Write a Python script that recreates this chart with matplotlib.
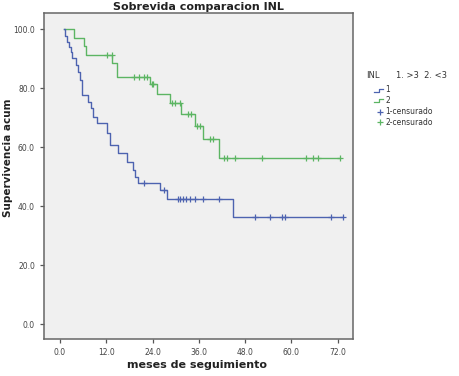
import numpy as np
import matplotlib
matplotlib.use("Agg")
import matplotlib.pyplot as plt
from matplotlib.lines import Line2D

# Kaplan-Meier data ----
g1_start = 1.0
g1_end = 73.3
g1_times = [1.2, 1.7, 2.3, 2.9, 3.2, 4.1, 4.6, 5.2, 5.6, 7.3, 8.0, 8.6, 9.5,
            12.1, 13.0, 15.1, 17.3, 19.0, 19.5, 20.3, 25.9, 27.7, 44.9]
g1_surv = [97.7, 95.8, 94.1, 92.4, 90.2, 87.9, 85.6, 82.8, 77.7, 75.5, 73.2, 70.4, 68.1,
           64.7, 60.8, 58.0, 55.1, 52.3, 50.0, 48.0, 45.5, 42.4, 36.5]
g1_cens = [21.7, 27.0, 30.7, 31.1, 32.0, 32.8, 33.7, 35.0, 37.2, 41.3,
           50.6, 54.4, 57.7, 58.3, 70.3, 73.3]

g2_start = 1.0
g2_end = 72.6
g2_times = [3.7, 6.3, 6.8, 13.6, 14.7, 23.3, 25.1, 28.5, 31.5, 35.0, 37.2, 41.3]
g2_surv = [97.1, 94.3, 91.4, 88.5, 83.7, 81.4, 78.0, 74.9, 71.2, 67.2, 62.7, 56.3]
g2_cens = [12.1, 13.4, 19.2, 20.6, 21.8, 22.6, 23.8, 24.2, 29.0, 29.8, 31.1, 33.3,
           33.9, 35.6, 36.3, 38.9, 39.7, 42.5, 43.4, 45.4, 52.3, 63.9, 65.5, 67.0, 72.6]

xticks = [0, 12, 24, 36, 48, 60, 72]
yticks = [0, 20, 40, 60, 80, 100]

blue = "#4d63b0"
green = "#5cb563"

W, H = 459, 376


def fx(x):
    return x / W


def fy(y):
    return 1 - y / H


def km_curve(ax, start, end, times, surv, cens, color):
    xs = [start] + times + [end]
    ys = [100] + surv + [surv[-1]]
    ax.step(xs, ys, where="post", color=color, lw=1.0)
    levels = np.array([100] + surv)
    idx = np.searchsorted(np.array(times), np.array(cens), side="right")
    ax.plot(cens, levels[idx], linestyle="none", marker="+", color=color,
            markersize=4.5, markeredgewidth=0.9)


fig = plt.figure(figsize=(W / 100, H / 100), dpi=100)
ax = fig.add_axes([fx(44), fy(339), fx(353) - fx(44), fy(12.7) - fy(339)])
ax.set_facecolor("#f0f0f0")

km_curve(ax, g2_start, g2_end, g2_times, g2_surv, g2_cens, green)
km_curve(ax, g1_start, g1_end, g1_times, g1_surv, g1_cens, blue)

ax.set_xlim(-4.15, 76.0)
ax.set_ylim(-5.0, 105.6)
ax.set_xticks(xticks)
ax.set_xticklabels(["%.1f" % v for v in xticks])
ax.set_yticks(yticks)
ax.set_yticklabels(["%.1f" % v for v in yticks])
ax.tick_params(direction="out", length=3, width=0.9, colors="#555555",
               labelsize=5.5, labelcolor="#444444")
for sp in ax.spines.values():
    sp.set_color("#666666")
    sp.set_linewidth(1.1)

ax.set_xlabel("meses de seguimiento", fontsize=8, fontweight="bold", color="#222222")
ax.xaxis.set_label_coords((197 - 44) / 309, -(360 - 339) / 326.3)
ax.set_ylabel("Supervivencia acum", fontsize=7.5, fontweight="bold", color="#222222")
ax.yaxis.set_label_coords(-(44 - 13) / 309, (339 - 158) / 326.3)
fig.text(fx(198), fy(7), "Sobrevida comparacion INL", ha="center", va="center",
         fontsize=8, fontweight="bold", color="#222222")

# Legend ------
fig.text(fx(366), fy(75), "INL", fontsize=6, va="center", color="#333333")
fig.text(fx(396), fy(75), "1. >3  2. <3", fontsize=6, va="center", color="#333333")

for yy, col, lab in [(90, blue, "1"), (100.5, green, "2")]:
    fig.add_artist(Line2D([fx(374), fx(379), fx(379), fx(383)],
                          [fy(yy + 1.5), fy(yy + 1.5), fy(yy - 1.5), fy(yy - 1.5)],
                          color=col, lw=0.9))
    fig.text(fx(385), fy(yy), lab, fontsize=5.5, va="center", color="#333333")

for yy, col, lab in [(112, blue, "1-censurado"), (122, green, "2-censurado")]:
    fig.add_artist(Line2D([fx(380)], [fy(yy)], marker="+", color=col,
                          markersize=5, markeredgewidth=0.9, linestyle="none"))
    fig.text(fx(385), fy(yy), lab, fontsize=5.5, va="center", color="#333333")

fig.savefig("out.png", dpi=100)
